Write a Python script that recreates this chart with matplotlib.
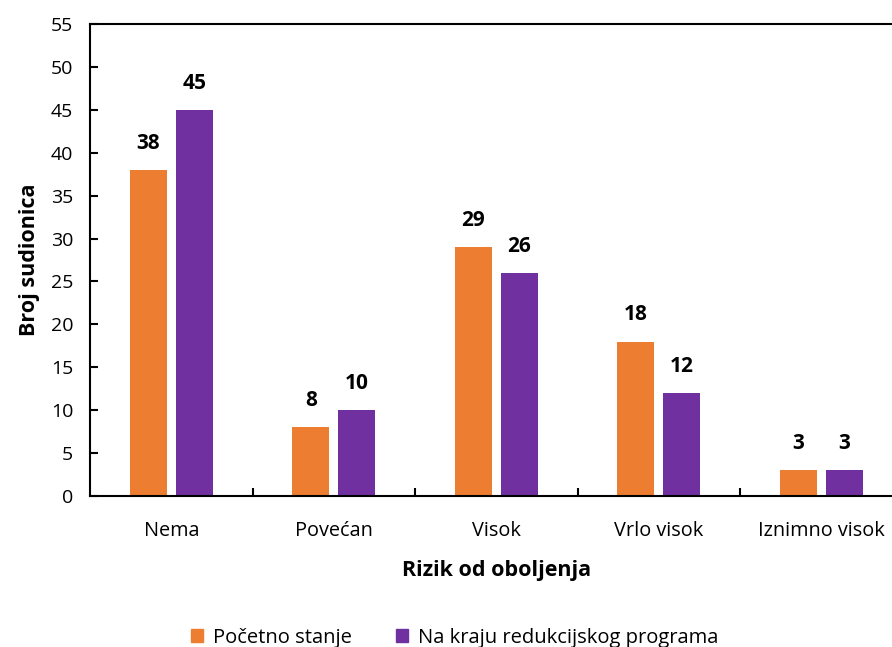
import numpy as np
import matplotlib.pyplot as plt
from matplotlib.patches import Patch

plt.rcParams['font.family'] = ['Open Sans', 'DejaVu Sans']

kategorije = ['Nema', 'Povećan', 'Visok', 'Vrlo visok', 'Iznimno visok']
pocetno = [38, 8, 29, 18, 3]
na_kraju = [45, 10, 26, 12, 3]
serije = ['Početno stanje', 'Na kraju redukcijskog programa']
boje = ['#ED7D31', '#7030A0']

fig = plt.figure(figsize=(8.92, 6.47), dpi=100)
ax = fig.add_axes([0.1009, 0.2334, 0.911, 0.7295])

x = np.arange(len(kategorije))
w = 0.228
off = 0.142
b1 = ax.bar(x - off, pocetno, w, color=boje[0])
b2 = ax.bar(x + off, na_kraju, w, color=boje[1])
for bars in (b1, b2):
    for b in bars:
        ax.text(b.get_x() + b.get_width() / 2, b.get_height() + 1.9, str(int(b.get_height())),
                ha='center', va='bottom', fontsize=15, fontweight='bold')

ax.set_xlim(-0.5, 4.5)
ax.set_ylim(0, 55)
ax.set_yticks(range(0, 56, 5))
ax.set_xticks(x)
ax.set_xticklabels(kategorije, fontsize=14.3)
ax.set_xticks(np.arange(0.5, 4.5, 1), minor=True)
ax.tick_params(axis='x', which='major', length=0, pad=18)
ax.tick_params(axis='x', which='minor', length=6, width=1.5, direction='in')
ax.tick_params(axis='y', length=6, width=1.5, direction='in', labelsize=14, pad=12)
for s in ['left', 'bottom', 'top']:
    ax.spines[s].set_linewidth(1.5)
ax.spines['right'].set_visible(False)

ax.set_ylabel('Broj sudionica', fontsize=15.5, fontweight='bold', labelpad=8)
ax.set_xlabel('Rizik od oboljenja', fontsize=15.5, fontweight='bold', labelpad=14)

handles = [Patch(color=c) for c in boje]
fig.legend(handles, serije, loc='center', bbox_to_anchor=(0.51, 0.014), ncol=2, frameon=False,
           fontsize=14.5, handlelength=0.6, handleheight=0.6, columnspacing=2.2, handletextpad=0.5)

fig.savefig('out.png', dpi=100)
